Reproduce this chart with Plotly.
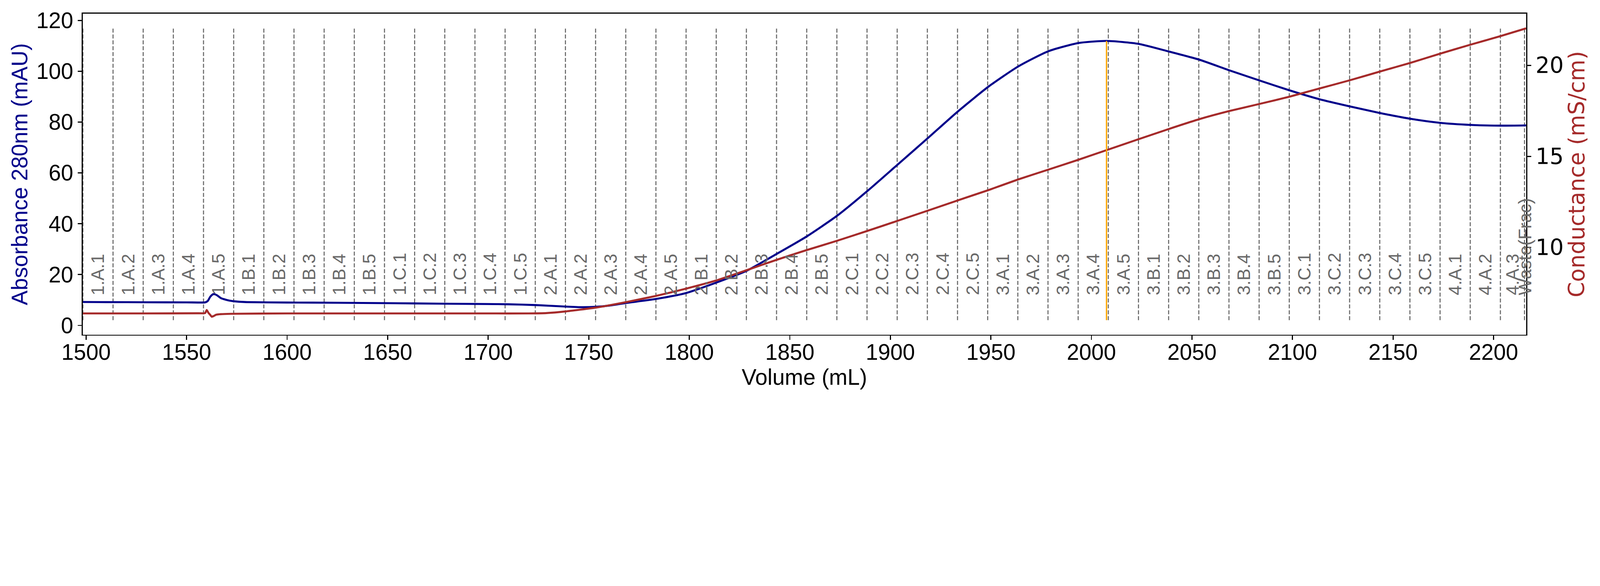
import plotly.graph_objects as go

# ---------------- data ----------------
uv_volume = [1498.3, 1510, 1530, 1550, 1558, 1559.4, 1560.5, 1561.8, 1563.3, 1565.0,
             1567.1, 1569.5, 1571.6, 1574.0, 1576.2, 1580, 1600, 1625, 1650, 1675,
             1700, 1710, 1723.5, 1738.5, 1746.5, 1753.5, 1760.3, 1768.4, 1783.4, 1798.3,
             1813.3, 1828.3, 1843.2, 1858.0, 1873.6, 1888.6, 1903.5, 1918.5, 1933.6, 1948.7,
             1963.6, 1978.6, 1993.5, 2007.5, 2023.4, 2038.4, 2053.5, 2068.5, 2083.5, 2098.5,
             2113.4, 2128.4, 2143.4, 2158.6, 2173.5, 2188.5, 2203.4, 2216.2]
uv_abs = [9.2, 9.15, 9.1, 9.05, 9.0, 9.1, 9.6, 11.3, 12.3, 11.9,
          10.7, 10.1, 9.7, 9.45, 9.3, 9.15, 9.0, 8.9, 8.75, 8.55,
          8.4, 8.3, 8.0, 7.4, 7.15, 7.3, 7.8, 8.8, 10.4, 12.7,
          16.8, 21.4, 28.0, 34.8, 43.2, 52.9, 63.2, 73.6, 84.2, 93.9,
          101.9, 107.9, 111.1, 111.95, 110.8, 107.8, 104.6, 100.4, 96.4, 92.5,
          89.0, 86.2, 83.6, 81.3, 79.7, 78.9, 78.6, 78.7]

cond_volume = [1498.3, 1530, 1555, 1559.2, 1560.0, 1560.8, 1561.6, 1562.5, 1563.5, 1564.7,
               1567, 1572, 1600, 1650, 1700, 1720, 1729, 1738.5, 1753.5, 1768.4,
               1783.4, 1798.3, 1813.3, 1828.3, 1843.2, 1858.0, 1873.6, 1888.6, 1903.5, 1918.5,
               1933.6, 1948.7, 1963.6, 1978.6, 1993.5, 2007.5, 2023.4, 2038.4, 2053.5, 2068.5,
               2083.5, 2098.5, 2113.4, 2128.4, 2143.4, 2158.6, 2173.5, 2188.5, 2203.4, 2216.2]
cond_ms = [6.36, 6.36, 6.37, 6.38, 6.55, 6.40, 6.30, 6.18, 6.22, 6.29,
           6.32, 6.34, 6.36, 6.36, 6.36, 6.36, 6.38, 6.47, 6.68, 6.98,
           7.32, 7.72, 8.17, 8.73, 9.30, 9.83, 10.36, 10.90, 11.45, 12.01,
           12.58, 13.14, 13.73, 14.27, 14.81, 15.34, 15.94, 16.50, 17.04, 17.49,
           17.88, 18.28, 18.73, 19.18, 19.66, 20.14, 20.65, 21.14, 21.61, 22.04]

fraction_names = ["1.A.1", "1.A.2", "1.A.3", "1.A.4", "1.A.5",
                  "1.B.1", "1.B.2", "1.B.3", "1.B.4", "1.B.5",
                  "1.C.1", "1.C.2", "1.C.3", "1.C.4", "1.C.5",
                  "2.A.1", "2.A.2", "2.A.3", "2.A.4", "2.A.5",
                  "2.B.1", "2.B.2", "2.B.3", "2.B.4", "2.B.5",
                  "2.C.1", "2.C.2", "2.C.3", "2.C.4", "2.C.5",
                  "3.A.1", "3.A.2", "3.A.3", "3.A.4", "3.A.5",
                  "3.B.1", "3.B.2", "3.B.3", "3.B.4", "3.B.5",
                  "3.C.1", "3.C.2", "3.C.3", "3.C.4", "3.C.5",
                  "4.A.1", "4.A.2", "4.A.3", "Waste(Frac)"]
fraction_start = [1498.4, 1513.4, 1528.4, 1543.4, 1558.4,
                  1573.4, 1588.4, 1603.4, 1618.4, 1633.4,
                  1648.4, 1663.4, 1678.4, 1693.4, 1708.4,
                  1723.4, 1738.4, 1753.4, 1768.4, 1783.4,
                  1798.4, 1813.4, 1828.4, 1843.4, 1858.4,
                  1873.4, 1888.4, 1903.4, 1918.4, 1933.4,
                  1948.4, 1963.4, 1978.4, 1993.4, 2008.4,
                  2023.4, 2038.4, 2053.4, 2068.4, 2083.4,
                  2098.4, 2113.4, 2128.4, 2143.4, 2158.4,
                  2173.4, 2188.4, 2203.4, 2215.4]
run_end_volume = 2216.2

peak_volume = 2007.5
peak_abs = 111.95
marker_low = 2.07
marker_high = 116.95

x_ticks = [1500, 1550, 1600, 1650, 1700, 1750, 1800, 1850, 1900, 1950, 2000, 2050, 2100, 2150, 2200]
uv_ticks = [0, 20, 40, 60, 80, 100, 120]
cond_ticks = [10, 15, 20]

# ---------------- styling (pixel sizes for the 6000x1500 figure) ----------------
W, H = 6000, 1500
BLUE = "#00008B"
RED = "#A52A2A"
GREY = "#696969"
ARIAL = "Liberation Sans, Arial, sans-serif"
DEJAVU = "DejaVu Sans, sans-serif"
FS = 83
FS_LAB = 66.7

fig = go.Figure()

fig.add_trace(go.Scatter(x=uv_volume, y=uv_abs, mode="lines",
                         line=dict(color=BLUE, width=7.5, shape="spline", smoothing=0.6),
                         showlegend=False, yaxis="y"))
fig.add_trace(go.Scatter(x=cond_volume, y=cond_ms, mode="lines",
                         line=dict(color=RED, width=7.5, shape="spline", smoothing=0.4),
                         showlegend=False, yaxis="y2"))

shapes = []
for xs in fraction_start:
    shapes.append(dict(type="line", xref="x", yref="y", x0=xs, x1=xs,
                       y0=marker_low, y1=marker_high, layer="below",
                       line=dict(color=GREY, width=4, dash="15px,7px")))
shapes.append(dict(type="line", xref="x", yref="y", x0=peak_volume, x1=peak_volume,
                   y0=marker_low, y1=peak_abs, layer="above",
                   line=dict(color="orange", width=5)))

annotations = []
ends = fraction_start[1:] + [run_end_volume]
for name, a, b in zip(fraction_names, fraction_start, ends):
    annotations.append(dict(x=(a + b) / 2, y=0.122, xref="x", yref="y domain",
                            text=name, showarrow=False, textangle=-90,
                            xanchor="center", yanchor="bottom", borderpad=0,
                            font=dict(family=ARIAL, size=FS_LAB, color=GREY)))

tick_common = dict(ticks="outside", ticklen=15, tickwidth=3.5, tickcolor="black",
                   showline=True, linewidth=3.5, linecolor="black",
                   showgrid=False, zeroline=False)

fig.update_layout(
    width=W, height=H,
    margin=dict(l=310, r=277, t=51, b=245, pad=0),
    paper_bgcolor="white", plot_bgcolor="white",
    shapes=shapes, annotations=annotations,
    showlegend=False,
    xaxis=dict(range=[1498.3, 2216.2], tickvals=x_ticks, mirror=True,
               ticklabelstandoff=-24,
               tickfont=dict(family=ARIAL, size=FS, color="black"),
               title=dict(text="Volume (mL)", font=dict(family=ARIAL, size=FS, color="black"),
                          standoff=4),
               **tick_common),
    yaxis=dict(range=[-3.67, 122.7], tickvals=uv_ticks,
               tickfont=dict(family=ARIAL, size=FS, color="black"),
               title=dict(text="Absorbance 280nm (mAU)",
                          font=dict(family=ARIAL, size=FS, color=BLUE), standoff=6),
               **tick_common),
    yaxis2=dict(range=[5.19, 22.85], tickvals=cond_ticks,
                overlaying="y", side="right",
                tickfont=dict(family=DEJAVU, size=FS, color="black"),
                title=dict(text="Conductance (mS/cm)",
                           font=dict(family=DEJAVU, size=FS, color=RED), standoff=20),
                **tick_common),
)

# If the browser viewport is narrower than the 6000x1500 figure, scale the whole
# (vector) figure down uniformly so that it is shown complete.
fit_script = """
(function(){
  var gd = document.getElementById('{plot_id}');
  document.documentElement.style.margin = '0';
  document.body.style.margin = '0';
  document.body.style.overflow = 'hidden';
  var s = Math.min(1, window.innerWidth / %d, window.innerHeight / %d);
  if (s < 1) {
    gd.style.transformOrigin = '0 0';
    gd.style.transform = 'scale(' + s + ')';
  }
})();
""" % (W, H)

fig.write_html("out.html", config={"displayModeBar": False}, post_script=fit_script)
